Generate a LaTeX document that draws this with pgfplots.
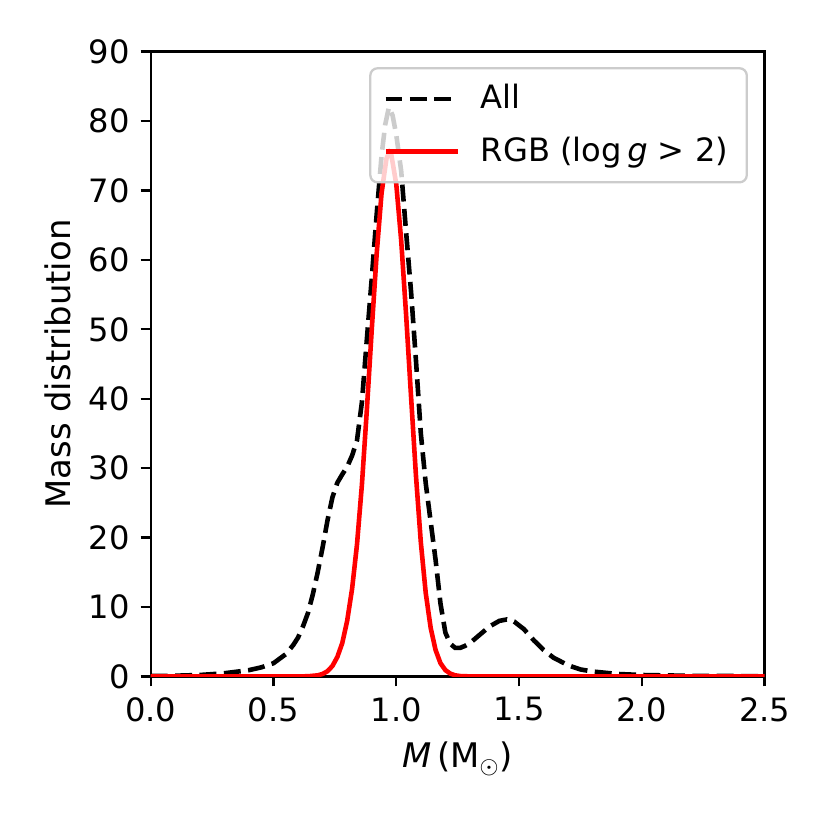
\documentclass[border=0pt]{standalone}
\usepackage{fontspec}
\setmainfont{DejaVu Sans}
\usepackage{pgfplots}
\pgfplotsset{compat=1.18}
\begin{document}
\fontsize{11}{13}\selectfont
\begin{tikzpicture}
\useasboundingbox (0,0) rectangle (289.08pt,289.08pt);
\begin{axis}[
  at={(52.5pt,53.5pt)}, anchor=south west,
  scale only axis, width=213.8pt, height=217.6pt,
  xmin=0, xmax=2.5, ymin=0, ymax=90,
  xtick={0,0.5,1,1.5,2,2.5},
  ytick={0,10,20,30,40,50,60,70,80,90},
  xtick pos=bottom, ytick pos=left,
  tick align=outside, major tick length=3.5pt,
  tick style={black, line width=0.8pt},
  axis line style={line width=0.8pt},
  /pgf/number format/assume math mode=true,
  xticklabel style={/pgf/number format/fixed, /pgf/number format/fixed zerofill, /pgf/number format/precision=1},
  ticklabel style={font=\fontsize{11.2}{13}\selectfont},
  label style={font=\fontsize{11.8}{14}\selectfont},
  xlabel={\textit{M}\,(M\textsubscript{$\odot$})},
  xlabel style={at={(axis description cs:0.5,-0.1465)}, anchor=base},
  ylabel={Mass distribution},
  ylabel style={at={(axis description cs:-0.1314,0.5)}, anchor=base, rotate=0},
  legend style={at={(1,1)}, anchor=north east, xshift=-5.8pt, yshift=-5.4pt,
    draw=black!20, line width=0.8pt, rounded corners=2.5pt, fill=white,
    fill opacity=0.8, text opacity=1, draw opacity=1,
    inner xsep=4.5pt, inner ysep=3.6pt, row sep=4.2pt,
    font=\fontsize{11.2}{13}\selectfont, cells={anchor=west},
    /tikz/every odd column/.append style={column sep=5pt}},
  legend image code/.code={\draw[#1] (0pt,0pt) -- (25.4pt,0pt);},
]
\addplot[black, line width=1.6pt, dash pattern=on 5.9pt off 2.6pt] coordinates {
(0.00,0.05) (0.10,0.10) (0.20,0.20) (0.30,0.45) (0.40,0.90) (0.45,1.30)
(0.50,1.90) (0.55,3.20) (0.58,4.50) (0.60,5.60) (0.62,7.20) (0.64,9.10)
(0.66,11.8) (0.68,15.0) (0.70,18.6) (0.72,22.5) (0.74,25.8) (0.76,27.9)
(0.78,29.1) (0.80,30.2) (0.82,31.8) (0.84,34.0) (0.86,39.5) (0.88,48.5)
(0.90,57.3) (0.92,66.5) (0.94,75.0) (0.955,79.5) (0.97,82.0) (0.985,80.8)
(1.00,78.0) (1.02,72.8) (1.04,64.0) (1.06,55.5) (1.08,45.6) (1.10,35.0)
(1.12,27.8) (1.14,22.3) (1.16,16.8) (1.18,10.5) (1.20,6.3) (1.22,4.7)
(1.24,4.1) (1.26,4.1) (1.28,4.4) (1.30,4.8) (1.34,6.0) (1.38,7.2)
(1.42,8.0) (1.45,8.2) (1.48,7.9) (1.52,6.8) (1.56,5.2) (1.60,3.8)
(1.64,2.7) (1.70,1.6) (1.75,1.0) (1.80,0.7) (1.90,0.35) (2.00,0.2)
(2.20,0.08) (2.50,0.03)
};
\addlegendentry{All}
\addplot[red, line width=1.6pt] coordinates {
(0.00,0) (0.50,0) (0.60,0.00) (0.64,0.02) (0.68,0.15) (0.70,0.35) (0.72,0.75)
(0.74,1.5) (0.76,2.8) (0.78,4.8) (0.80,8.0) (0.82,12.6) (0.84,19.0)
(0.86,27.6) (0.88,38.3) (0.90,49.9) (0.92,60.8) (0.94,69.6) (0.96,74.6)
(0.972,75.5) (0.98,75.1) (1.00,70.9) (1.02,62.8) (1.04,52.1) (1.06,40.4)
(1.08,29.0) (1.10,19.3) (1.12,12.0) (1.14,7.0) (1.16,3.8) (1.18,1.9)
(1.20,0.9) (1.22,0.4) (1.24,0.15) (1.26,0.05) (1.30,0.0) (2.50,0.0)
};
\addlegendentry{RGB (log\,\textit{g} > 2)}
\end{axis}
\end{tikzpicture}
\end{document}
